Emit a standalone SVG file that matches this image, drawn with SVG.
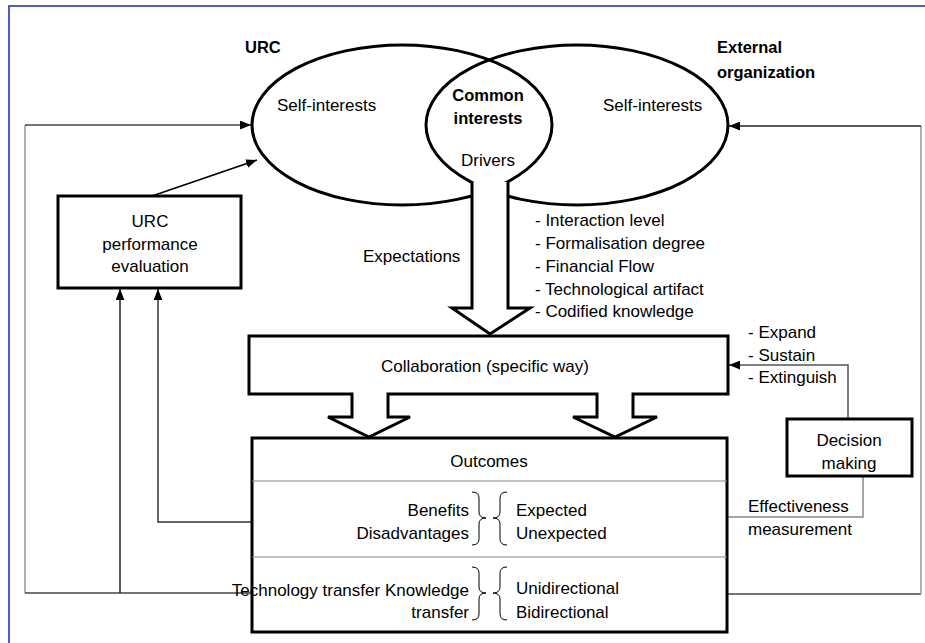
<svg xmlns="http://www.w3.org/2000/svg" width="925" height="643" viewBox="0 0 925 643">
<style>
text{font-family:"Liberation Sans",Arial,sans-serif;font-size:17px;fill:#000}
.b{font-weight:bold;font-size:16.5px}
.m{text-anchor:middle}
.e{text-anchor:end}
.thick{fill:#fff;stroke:#000;stroke-width:3}
.ln{fill:none;stroke-width:1.5}
</style>
<defs>
<marker id="ah" viewBox="0 0 10 8" refX="10" refY="4" markerWidth="11" markerHeight="9" markerUnits="userSpaceOnUse" orient="auto">
<path d="M0,0 L10,4 L0,8 z" fill="#000"/>
</marker>
</defs>
<rect width="925" height="643" fill="#fff"/>
<rect x="9" y="6" width="930" height="660" fill="none" stroke="#3b4cc0" stroke-width="1.8"/>

<g id="connectors">
<path class="ln" d="M25,593 L25,125" stroke="#999"/>
<path class="ln" d="M25,125 L251,125" stroke="#444" marker-end="url(#ah)"/>
<path class="ln" d="M25,593 L252,593" stroke="#444"/>
<path class="ln" d="M120,593 L120,289" stroke="#222" marker-end="url(#ah)"/>
<path class="ln" d="M252,522 L158,522 L158,289" stroke="#333" marker-end="url(#ah)"/>
<path class="ln" d="M152,196 L257,160" stroke="#000" marker-end="url(#ah)"/>
<path class="ln" d="M727,594 L921,594" stroke="#444"/>
<path class="ln" d="M921,594 L921,126" stroke="#999"/>
<path class="ln" d="M921,126 L729,126" stroke="#222" marker-end="url(#ah)"/>
<path class="ln" d="M848,419 L848,365 L729,365" stroke="#555" stroke-width="1.2" marker-end="url(#ah)"/>
<path class="ln" d="M863,476 L863,517 L727,517" stroke="#888" stroke-width="1.2"/>
</g>

<g id="urc">
<ellipse cx="402" cy="125" rx="150" ry="80" fill="none" stroke="#000" stroke-width="3"/>
<text x="245" y="53" class="b">URC</text>
<text x="277" y="111">Self-interests</text>
</g>
<g id="external">
<ellipse cx="577" cy="125" rx="151" ry="80" fill="none" stroke="#000" stroke-width="3"/>
<text x="717" y="53" class="b">External</text>
<text x="717" y="78" class="b">organization</text>
<text x="603" y="111">Self-interests</text>
</g>
<g id="common">
<text x="488" y="101" class="b m">Common</text>
<text x="488" y="124" class="b m">interests</text>
<text x="488" y="166" class="m">Drivers</text>
</g>

<g id="drivers-arrow">
<path d="M472,182 L472,308 L452,308 L490,334 L530,308 L508,308 L508,182 Z" fill="#fff"/>
<path d="M472,182 L472,308 L452,308 L490,334 L530,308 L508,308 L508,182" fill="none" stroke="#000" stroke-width="3"/>
<text x="363" y="262">Expectations</text>
<text x="535" y="226">- Interaction level</text>
<text x="535" y="249">- Formalisation degree</text>
<text x="535" y="272">- Financial Flow</text>
<text x="535" y="295">- Technological artifact</text>
<text x="535" y="317">- Codified knowledge</text>
</g>

<g id="collaboration">
<path class="thick" d="M249,336 L728,336 L728,394 L633,394 L633,417 L657,417 L615,437 L573,417 L597,417 L597,394 L388,394 L388,417 L410,417 L369,437 L328,417 L352,417 L352,394 L249,394 Z"/>
<text x="485" y="372" class="m">Collaboration (specific way)</text>
</g>

<g id="outcomes">
<rect x="252" y="438" width="475" height="194" class="thick"/>
<line x1="252" y1="481" x2="727" y2="481" stroke="#888" stroke-width="1.2"/>
<line x1="252" y1="557" x2="727" y2="557" stroke="#888" stroke-width="1.2"/>
<text x="489" y="467" class="m">Outcomes</text>
<text x="469" y="516" class="e">Benefits</text>
<text x="469" y="539" class="e">Disadvantages</text>
<path d="M472,492 Q479,492 479,498 L479,512 Q479,518 486,518 Q479,518 479,524 L479,539 Q479,545 472,545" fill="none" stroke="#000" stroke-width="1"/>
<path d="M507,492 Q500,492 500,498 L500,512 Q500,518 493,518 Q500,518 500,524 L500,539 Q500,545 507,545" fill="none" stroke="#000" stroke-width="1"/>
<text x="516" y="516">Expected</text>
<text x="516" y="539">Unexpected</text>
<text x="469" y="596" class="e">Technology transfer Knowledge</text>
<text x="469" y="618" class="e">transfer</text>
<path d="M472,567 Q479,567 479,573 L479,587 Q479,593 486,593 Q479,593 479,599 L479,614 Q479,620 472,620" fill="none" stroke="#000" stroke-width="1"/>
<path d="M507,567 Q500,567 500,573 L500,587 Q500,593 493,593 Q500,593 500,599 L500,614 Q500,620 507,620" fill="none" stroke="#000" stroke-width="1"/>
<text x="516" y="594">Unidirectional</text>
<text x="516" y="618">Bidirectional</text>
</g>

<g id="urc-eval">
<rect x="58" y="196" width="183" height="92" class="thick"/>
<text x="150" y="227" class="m">URC</text>
<text x="150" y="250" class="m">performance</text>
<text x="150" y="272" class="m">evaluation</text>
</g>

<g id="decision">
<rect x="787" y="419" width="125" height="57" class="thick"/>
<text x="849" y="446" class="m">Decision</text>
<text x="849" y="469" class="m">making</text>
</g>

<g id="labels">
<text x="748" y="338">- Expand</text>
<text x="748" y="361">- Sustain</text>
<text x="748" y="383">- Extinguish</text>
<text x="748" y="512">Effectiveness</text>
<text x="748" y="535">measurement</text>
</g>
</svg>
